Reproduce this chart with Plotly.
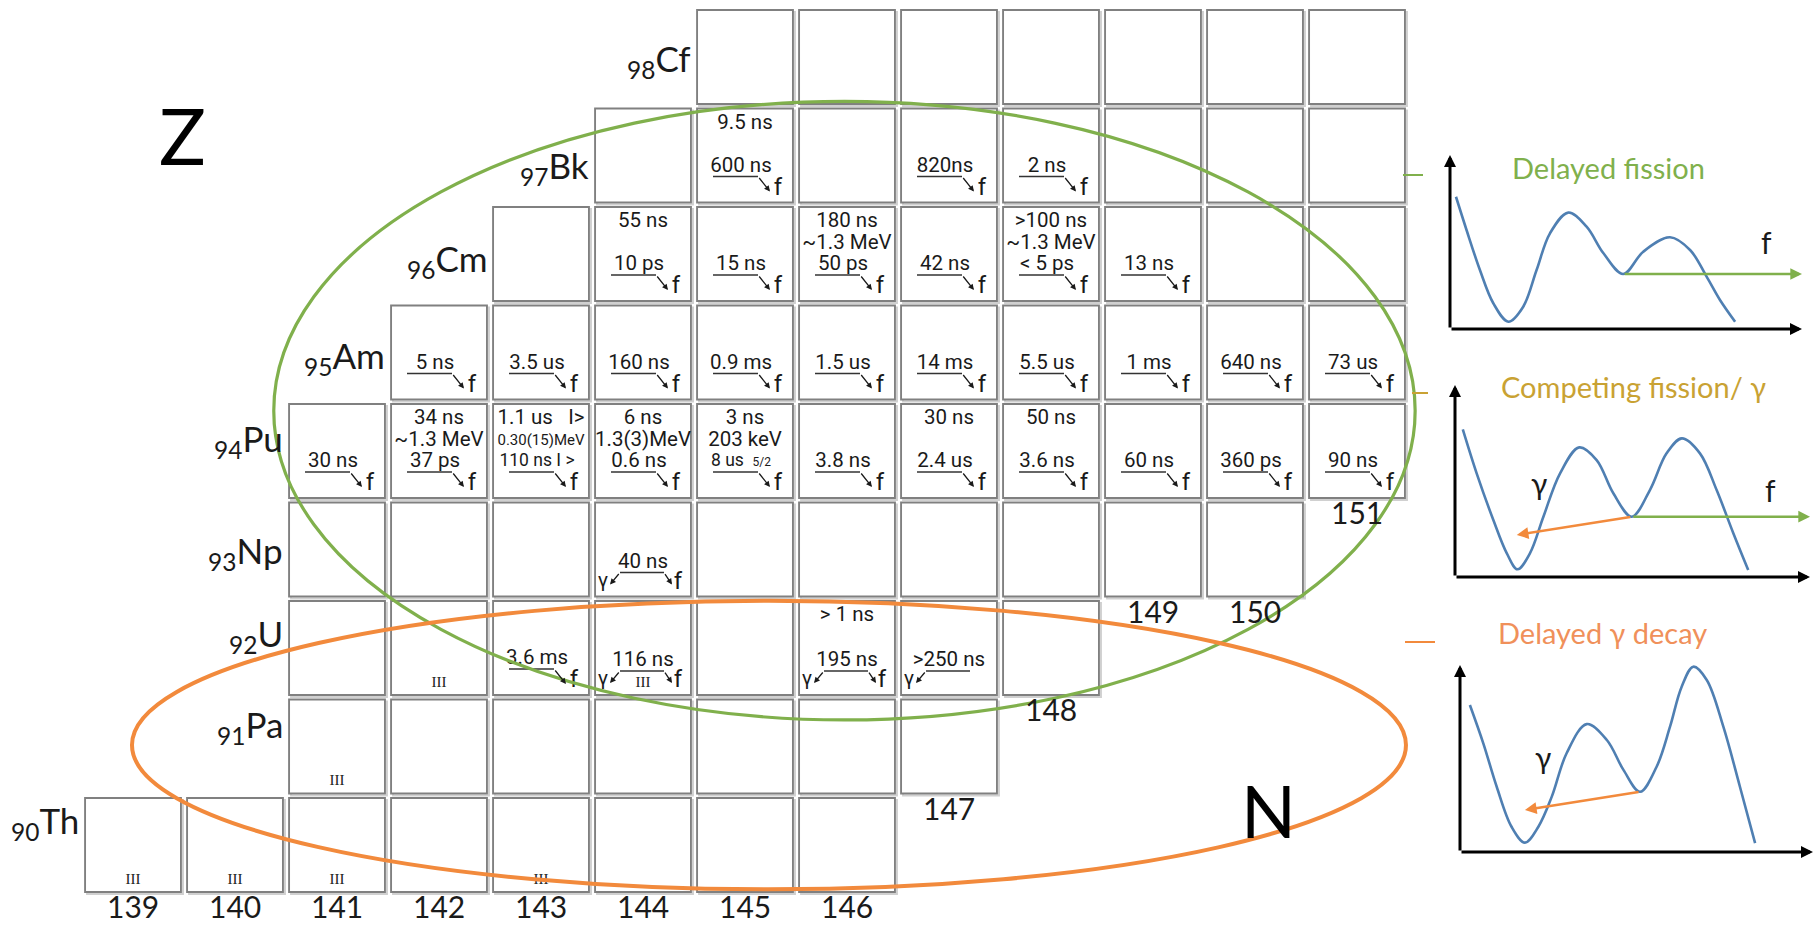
import plotly.graph_objects as go

W, H = 1816, 926

# ---------------- data ----------------
row_Z    = [98, 97, 96, 95, 94, 93, 92, 91, 90]
row_sym  = ["Cf", "Bk", "Cm", "Am", "Pu", "Np", "U", "Pa", "Th"]
row_Nmin = [145, 144, 143, 142, 141, 141, 141, 141, 139]
row_Nmax = [151, 151, 151, 151, 151, 150, 148, 147, 146]

iso_N = [145, 147, 148,
         144, 145, 146, 147, 148, 149,
         142, 143, 144, 145, 146, 147, 148, 149, 150, 151,
         141, 142, 143, 144, 145, 146, 147, 148, 149, 150, 151,
         144,
         143, 144, 146, 147]
iso_Z = [97] * 3 + [96] * 6 + [95] * 10 + [94] * 11 + [93] + [92] * 4
iso_top = ["9.5 ns", "", "",
           "55 ns", "", "180 ns", "", ">100 ns", "",
           "", "", "", "", "", "", "", "", "", "",
           "", "34 ns", "1.1 us   I>", "6 ns", "3 ns", "", "30 ns", "50 ns", "", "", "",
           "",
           "", "", "> 1 ns", ""]
iso_mid = ["", "", "",
           "", "", "~1.3 MeV", "", "~1.3 MeV", "",
           "", "", "", "", "", "", "", "", "", "",
           "", "~1.3 MeV", "0.30(15)MeV", "1.3(3)MeV", "203 keV", "", "", "", "", "", "",
           "",
           "", "", "", ""]
iso_half = ["600 ns", "820ns", "2 ns",
            "10 ps", "15 ns", "50 ps", "42 ns", "< 5 ps", "13 ns",
            "5 ns", "3.5 us", "160 ns", "0.9 ms", "1.5 us", "14 ms", "5.5 us", "1 ms", "640 ns", "73 us",
            "30 ns", "37 ps", "110 ns I >", "0.6 ns", "8 us  5/2", "3.8 ns", "2.4 us", "3.6 ns",
            "60 ns", "360 ps", "90 ns",
            "40 ns",
            "3.6 ms", "116 ns", "195 ns", ">250 ns"]
iso_decay = ["f"] * 30 + ["gf"] + ["f", "gf", "gf", "g"]

iii_N = [142, 144, 141, 139, 140, 141, 143]
iii_Z = [92, 92, 91, 90, 90, 90, 90]

# barrier sketches (local units: 0..1 along each small axis)
p1_u = [0.017, 0.047, 0.085, 0.123, 0.166, 0.208, 0.246, 0.284, 0.336, 0.388, 0.436, 0.492,
        0.549, 0.625, 0.682, 0.729, 0.767, 0.810]
p1_v = [0.760, 0.569, 0.339, 0.148, 0.042, 0.128, 0.339, 0.550, 0.669, 0.588, 0.435, 0.316,
        0.444, 0.527, 0.454, 0.301, 0.167, 0.042]
p2_u = [0.022, 0.061, 0.108, 0.146, 0.176, 0.211, 0.249, 0.296, 0.350, 0.399, 0.446, 0.498,
        0.549, 0.596, 0.639, 0.690, 0.737, 0.784, 0.826]
p2_v = [0.769, 0.540, 0.297, 0.123, 0.040, 0.123, 0.314, 0.540, 0.675, 0.609, 0.436, 0.314,
        0.453, 0.644, 0.722, 0.644, 0.453, 0.228, 0.036]
p3_u = [0.028, 0.066, 0.104, 0.146, 0.184, 0.222, 0.260, 0.302, 0.359, 0.416, 0.463, 0.510,
        0.557, 0.595, 0.628, 0.661, 0.699, 0.746, 0.793, 0.836]
p3_v = [0.786, 0.581, 0.349, 0.135, 0.050, 0.135, 0.296, 0.528, 0.684, 0.599, 0.439, 0.322,
        0.456, 0.670, 0.884, 0.991, 0.920, 0.670, 0.349, 0.047]

panel_titles = ["Delayed fission", "Competing fission/ γ", "Delayed γ decay"]

# ---------------- layout geometry ----------------
PX, PY = 102.0, 98.5           # pixels per unit N / unit Z
X0, YTOP = 137.696, 98.579     # axis value at left / top edge
HW, HH = 0.47, 0.477           # half box size
label_dy = [3, 12, 6, 5, -11, 3, -13, -20, -23]   # element label vertical shift (px, down)

GREEN_ELL = dict(x0=140.38, x1=151.57, y0=91.27, y1=97.55)
ORANGE_ELL = dict(x0=138.99, x1=151.48, y0=89.55, y1=92.48)

GREEN = "#80b04c"
ORANGE = "#f28a3c"
GOLD = "#c9a233"
BLUE = "#4f7fb2"
TXT = "#1a1a1a"
FS = 20.5


def dx(p):
    return p / PX


def dy(p):
    return -p / PY


def nb(s):
    return s.replace(" ", "\u00a0")


fig = go.Figure()
shapes = []
annos = []

# boxes
for Z, n0, n1 in zip(row_Z, row_Nmin, row_Nmax):
    for N in range(n0, n1 + 1):
        shapes.append(dict(type="rect", xref="x", yref="y",
                           x0=N - HW + dx(2), x1=N + HW + dx(2), y0=Z - HH + dy(2), y1=Z + HH + dy(2),
                           line=dict(color="#d0d0d0", width=2), layer="below"))
        shapes.append(dict(type="rect", xref="x", yref="y",
                           x0=N - HW, x1=N + HW, y0=Z - HH, y1=Z + HH,
                           line=dict(color="#808080", width=1.9), fillcolor="white", layer="below"))

# element labels
for Z, sym, n0, d in zip(row_Z, row_sym, row_Nmin, label_dy):
    annos.append(dict(x=n0 - HW, y=Z, xref="x", yref="y", xanchor="right", yanchor="middle",
                      xshift=-4, yshift=-d, showarrow=False,
                      text=f"<sub>{Z}</sub>{sym}", font=dict(family="Lato", size=35, color=TXT)))

# column (N) labels under the lowest box of each column
for N in range(min(row_Nmin), max(row_Nmax) + 1):
    zs = [Z for Z, a, b in zip(row_Z, row_Nmin, row_Nmax) if a <= N <= b]
    annos.append(dict(x=N, y=min(zs) - HH, xref="x", yref="y", xanchor="center", yanchor="middle",
                      yshift=-14, showarrow=False, text=str(N),
                      font=dict(family="Lato", size=30, color=TXT)))

# isomer texts
tx, ty, tt, ts = [], [], [], []
lx, ly = [], []


def arrow(xh, yh, xt, yt, color=TXT, width=1.3, size=0.9, ref=("x", "y")):
    annos.append(dict(x=xh, y=yh, ax=xt, ay=yt, xref=ref[0], yref=ref[1],
                      axref=ref[0], ayref=ref[1], text="", showarrow=True,
                      arrowhead=2, arrowsize=size, arrowwidth=width, arrowcolor=color))


for N, Z, top, mid, half, kind in zip(iso_N, iso_Z, iso_top, iso_mid, iso_half, iso_decay):
    if top:
        tx.append(N); ty.append(Z + dy(-32)); tt.append(nb(top)); ts.append(FS)
    if mid:
        tx.append(N); ty.append(Z + dy(-10)); tt.append(nb(mid)); ts.append(FS if len(mid) < 10 else 15)
    if kind == "f":
        t = nb(half)
        if "5/2" in half:
            t = nb(half.replace("5/2", "")) + "<span style='font-size:12px'>5/2</span>"
        tx.append(N + dx(-4)); ty.append(Z + dy(11)); tt.append(t)
        ts.append(FS if len(half) < 9 else 17.5)
        lx += [N + dx(-32), N + dx(13), None]
        ly += [Z + dy(21), Z + dy(21), None]
        arrow(N + dx(25), Z + dy(36), N + dx(13), Z + dy(21))
        tx.append(N + dx(33)); ty.append(Z + dy(33)); tt.append("f"); ts.append(24)
    else:
        tx.append(N); ty.append(Z + dy(13)); tt.append(nb(half)); ts.append(FS)
        lx += [N + dx(-23), N + dx(21), None]
        ly += [Z + dy(23), Z + dy(23), None]
        arrow(N + dx(-33), Z + dy(35), N + dx(-23), Z + dy(23))
        tx.append(N + dx(-40)); ty.append(Z + dy(32)); tt.append("γ"); ts.append(FS)
        if kind == "gf":
            arrow(N + dx(29), Z + dy(35), N + dx(21), Z + dy(23))
            tx.append(N + dx(35)); ty.append(Z + dy(33)); tt.append("f"); ts.append(24)

fig.add_trace(go.Scatter(x=lx, y=ly, mode="lines", line=dict(color="#333333", width=1.5),
                         hoverinfo="skip", showlegend=False))
fig.add_trace(go.Scatter(x=tx, y=ty, mode="text", text=tt,
                         textfont=dict(family="Roboto", size=ts, color=TXT),
                         hoverinfo="skip", showlegend=False))
fig.add_trace(go.Scatter(x=iii_N, y=[z + dy(35) for z in iii_Z], mode="text",
                         text=["III"] * len(iii_N),
                         textfont=dict(family="Liberation Serif", size=15, color=TXT),
                         hoverinfo="skip", showlegend=False))

# ellipses
shapes.append(dict(type="circle", xref="x", yref="y", **GREEN_ELL,
                   line=dict(color=GREEN, width=3.2), layer="above"))
shapes.append(dict(type="circle", xref="x", yref="y", **ORANGE_ELL,
                   line=dict(color=ORANGE, width=4), layer="above"))

# axis letters
annos.append(dict(x=182 / W, y=1 - 135 / H, xref="paper", yref="paper", showarrow=False,
                  xanchor="center", yanchor="middle",
                  text="Z", font=dict(family="Lato", size=78, color="black")))
annos.append(dict(x=1268 / W, y=1 - 810 / H, xref="paper", yref="paper", showarrow=False,
                  xanchor="center", yanchor="middle",
                  text="N", font=dict(family="Lato", size=72, color="black")))

# ---------------- right-hand barrier sketches ----------------
panel_px = [(1450, 1802, 155, 329), (1455, 1810, 385, 577), (1460, 1813, 665, 852)]
curves = [(p1_u, p1_v), (p2_u, p2_v), (p3_u, p3_v)]
title_pos = [(1608, 167, GREEN), (1633, 387, GOLD), (1602, 632, "#f0905a")]
tick_pos = [(1403, 1423, 175, GREEN), (1412, 1428, 393, GOLD), (1405, 1435, 642, ORANGE)]
lay = {}
for i, ((x0p, x1p, y0p, y1p), (cu, cv)) in enumerate(zip(panel_px, curves)):
    k = i + 2
    xa, ya = f"x{k}", f"y{k}"
    lay[f"xaxis{k}"] = dict(domain=[x0p / W, x1p / W], range=[0, 1], visible=False,
                            anchor=ya, fixedrange=True)
    lay[f"yaxis{k}"] = dict(domain=[1 - y1p / H, 1 - y0p / H], range=[0, 1], visible=False,
                            anchor=xa, fixedrange=True)
    fig.add_trace(go.Scatter(x=cu, y=cv, xaxis=xa, yaxis=ya, mode="lines",
                             line=dict(color=BLUE, width=2.6, shape="spline", smoothing=1.0),
                             hoverinfo="skip", showlegend=False))
    arrow(1.0, 0, 0, 0, color="black", width=3, size=0.8, ref=(xa, ya))
    arrow(0, 1.0, 0, 0, color="black", width=3, size=0.8, ref=(xa, ya))
    # transitions from the second well
    mu, mv = cu[11], cv[11]
    if i < 2:
        arrow(1.0, mv, mu, mv, color=GREEN, width=2.6, size=0.9, ref=(xa, ya))
        annos.append(dict(x=0.90 if i == 0 else 0.89, y=0.50 if i == 0 else 0.455, xref=xa, yref=ya,
                          xanchor="center", yanchor="middle",
                          showarrow=False, text="f", font=dict(family="Lato", size=30, color=TXT)))
    if i > 0:
        gu, gv = (0.174, 0.219) if i == 1 else (0.184, 0.225)
        arrow(gu, gv, mu, mv, color=ORANGE, width=2.6, size=0.9, ref=(xa, ya))
        annos.append(dict(x=0.236, y=0.49 if i == 1 else 0.51, xref=xa, yref=ya,
                          xanchor="center", yanchor="middle",
                          showarrow=False, text="γ", font=dict(family="Lato", size=30, color=TXT)))
    tx_, ty_, col = title_pos[i]
    annos.append(dict(x=tx_ / W, y=1 - ty_ / H, xref="paper", yref="paper", showarrow=False,
                      xanchor="center", yanchor="middle",
                      text=panel_titles[i], font=dict(family="Lato", size=29, color=col)))
    a, b, yy, col = tick_pos[i]
    shapes.append(dict(type="line", xref="paper", yref="paper", x0=a / W, x1=b / W,
                       y0=1 - yy / H, y1=1 - yy / H, line=dict(color=col, width=2)))

fig.update_layout(
    width=W, height=H, autosize=False,
    margin=dict(l=0, r=0, t=0, b=0),
    paper_bgcolor="white", plot_bgcolor="white",
    xaxis=dict(range=[X0, X0 + W / PX], visible=False, fixedrange=True),
    yaxis=dict(range=[YTOP - H / PY, YTOP], visible=False, fixedrange=True),
    shapes=shapes, annotations=annos, showlegend=False,
    **lay,
)

fig.write_html("out.html", config={"displayModeBar": False})
